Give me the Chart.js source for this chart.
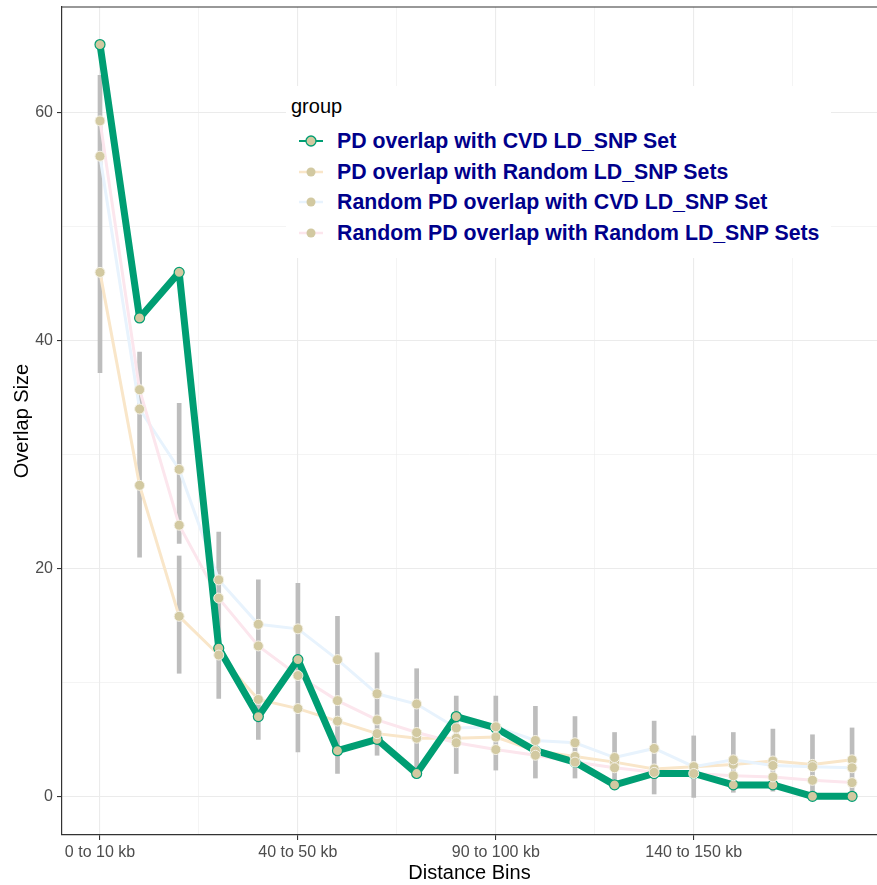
<!DOCTYPE html>
<html>
<head>
<meta charset="utf-8">
<title>Overlap Size by Distance Bins</title>
<script src="https://cdn.jsdelivr.net/npm/chart.js@4.4.0/dist/chart.umd.min.js"></script>
<style>
body { margin: 0; background: #fff; font-family: "Liberation Sans", Arial, sans-serif; }
#wrap { position: relative; width: 877px; height: 885px; }
#legend { position: absolute; left: 286px; top: 86px; width: 545px; height: 172px; background: #fff; }
.leg-title { position: absolute; left: 5px; top: 9px; font-size: 20px; line-height: 23px; color: #000; }
.leg-row { position: absolute; left: 0; width: 540px; height: 24px; line-height: 24px; font-size: 21.3px; font-weight: bold; color: #00008b; white-space: nowrap; }
.leg-row svg { position: absolute; left: 13px; top: 0; }
.leg-row span { position: absolute; left: 51px; top: 0; }
</style>
</head>
<body>
<div id="wrap">
  <canvas id="overlapChart" width="877" height="885"></canvas>
  <div id="legend"></div>
</div>
<script>
// distance bins (only every 5th one is labelled on the axis)
const categories = [
    "0 to 10 kb", "10 to 15 kb", "15 to 20 kb", "20 to 30 kb", "30 to 40 kb",
    "40 to 50 kb", "50 to 60 kb", "60 to 70 kb", "70 to 80 kb", "80 to 90 kb",
    "90 to 100 kb", "100 to 110 kb", "110 to 120 kb", "120 to 130 kb", "130 to 140 kb",
    "140 to 150 kb", "150 to 160 kb", "160 to 170 kb", "170 to 180 kb", "180 to 190 kb"
];

const pdCvd =          [66, 42, 46, 13, 7, 12, 4, 5, 2, 7, 6, 4, 3, 1, 2, 2, 1, 1, 0, 0];
const pdRandom =       [46.0, 27.3, 15.8, 12.4, 8.5, 7.7, 6.6, 5.5, 5.1, 5.1, 5.2, 4.0, 3.5, 3.0, 2.4, 2.6, 2.8, 3.1, 2.8, 3.2];
const randomPdCvd =    [56.2, 34.0, 28.7, 19.0, 15.1, 14.7, 12.0, 9.0, 8.1, 6.0, 6.1, 4.9, 4.7, 3.4, 4.2, 2.6, 3.2, 2.7, 2.6, 2.5];
const randomPdRandom = [59.3, 35.7, 23.8, 17.4, 13.2, 10.6, 8.4, 6.7, 5.6, 4.7, 4.1, 3.6, 3.0, 2.5, 2.1, 2.0, 1.8, 1.7, 1.4, 1.2];

// grey ranges behind the random sets
const errLow =  [37.2, 21.0, 22.2, 8.6, 5.0, 3.9, 2.0, 3.6, 1.8, 2.0, 2.3, 1.6, 1.6, 1.5, 0.2, -0.1, 0.35, 0.45, -0.2, 0.3];
const errHigh = [63.3, 39.0, 34.5, 23.2, 19.0, 18.7, 15.8, 12.6, 11.2, 8.8, 8.8, 7.9, 7.0, 5.6, 6.6, 5.3, 5.6, 5.9, 5.4, 6.0];
const errExtraBin = 2;
const errExtra = [10.8, 21.1];

const yTicks = [0, 20, 40, 60];

const seriesNames = [
    "PD overlap with CVD LD_SNP Set",
    "PD overlap with Random LD_SNP Sets",
    "Random PD overlap with CVD LD_SNP Set",
    "Random PD overlap with Random LD_SNP Sets"
];
const lineColors = ['#009e73', '#f9e6c9', '#e8f3fd', '#fce6ed'];
const pointFill = '#d2c9a1';

function xy(values) {
    return values.map((v, i) => ({ x: i, y: v }));
}

const errBars = errLow.map((lo, i) => ({ x: i, y: [lo, errHigh[i]] }));
errBars.push({ x: errExtraBin, y: errExtra });

const randomSeries = [pdRandom, randomPdCvd, randomPdRandom];

const datasets = [];
datasets.push({
    type: 'bar', data: errBars, backgroundColor: '#bdbdbd',
    barThickness: 4, grouped: false, order: 20
});
randomSeries.forEach((vals, k) => {
    datasets.push({
        type: 'line', data: xy(vals), borderColor: lineColors[k + 1], borderWidth: 3,
        pointRadius: 0, tension: 0, order: 15 - k
    });
});
datasets.push({
    type: 'line', data: xy(pdCvd), borderColor: lineColors[0], borderWidth: 7,
    pointRadius: 0, tension: 0, borderJoinStyle: 'round', order: 10
});
datasets.push({
    type: 'line', data: xy(pdCvd), showLine: false, pointRadius: 5,
    pointBackgroundColor: pointFill, pointBorderColor: lineColors[0], pointBorderWidth: 1.2, order: 5
});
randomSeries.forEach((vals, k) => {
    datasets.push({
        type: 'line', data: xy(vals), showLine: false, pointRadius: 5,
        pointBackgroundColor: pointFill, pointBorderColor: '#f4f1e6', pointBorderWidth: 1, order: 4 - k
    });
});

const panelTop = {
    id: 'panelTop',
    afterDraw(chart) {
        const a = chart.chartArea;
        const ctx = chart.ctx;
        ctx.save();
        ctx.strokeStyle = '#333333';
        ctx.lineWidth = 1.2;
        ctx.beginPath();
        ctx.moveTo(a.left, a.top);
        ctx.lineTo(a.right, a.top);
        ctx.stroke();
        ctx.restore();
    }
};

const tickFont = { family: '"Liberation Sans", Arial, sans-serif', size: 16 };
const titleFont = { family: '"Liberation Sans", Arial, sans-serif', size: 20 };

new Chart(document.getElementById('overlapChart'), {
    type: 'line',
    data: { datasets: datasets },
    options: {
        responsive: false,
        animation: false,
        events: [],
        layout: { autoPadding: false, padding: { top: 7, right: 0, bottom: 0, left: 0 } },
        plugins: { legend: { display: false }, tooltip: { enabled: false } },
        scales: {
            x: {
                type: 'linear', min: -0.96, max: 19.63, offset: false,
                afterFit: s => { s.height = 50; s.paddingLeft = 0; s.paddingRight = 0; },
                border: { color: '#333333', width: 1.2 },
                grid: {
                    offset: false,
                    color: '#ebebeb',
                    lineWidth: c => (c.tick && c.tick.value % 5 === 0 ? 1.1 : 0.55),
                    tickColor: c => (c.tick && c.tick.value % 5 === 0 ? '#333333' : 'rgba(0,0,0,0)'),
                    tickLength: 5, tickWidth: 1.1
                },
                ticks: {
                    stepSize: 2.5, includeBounds: false, autoSkip: false, maxRotation: 0,
                    color: '#4d4d4d', font: tickFont, padding: 3,
                    callback: v => (v % 5 === 0 ? categories[v] : '')
                },
                title: { display: true, text: 'Distance Bins', color: '#000', font: titleFont, padding: { top: 0, bottom: 0 } }
            },
            y: {
                type: 'linear', min: -3.4, max: 69.3,
                afterFit: s => { s.width = 62; s.paddingTop = 0; s.paddingBottom = 0; },
                border: { color: '#333333', width: 1.2 },
                grid: {
                    color: '#ebebeb',
                    lineWidth: c => (c.tick && yTicks.includes(c.tick.value) ? 1.1 : 0.55),
                    tickColor: c => (c.tick && yTicks.includes(c.tick.value) ? '#333333' : 'rgba(0,0,0,0)'),
                    tickLength: 5, tickWidth: 1.1
                },
                ticks: {
                    stepSize: 10, includeBounds: false,
                    color: '#4d4d4d', font: tickFont, padding: 4,
                    callback: v => (yTicks.includes(v) ? String(v) : '')
                },
                title: { display: true, text: 'Overlap Size', color: '#000', font: titleFont, padding: { top: 10, bottom: 0 } }
            }
        }
    },
    plugins: [panelTop]
});

// legend drawn as html over the panel
const legend = document.getElementById('legend');
legend.innerHTML = '<div class="leg-title">group</div>';
const rowTops = [42.7, 73.5, 104.3, 135.1];
seriesNames.forEach((name, k) => {
    const main = k === 0;
    const key = main
        ? `<svg width="24" height="24"><line x1="0" y1="12" x2="24" y2="12" stroke="${lineColors[0]}" stroke-width="2"/><circle cx="12" cy="12" r="5" fill="${pointFill}" stroke="${lineColors[0]}" stroke-width="1.3"/></svg>`
        : `<svg width="24" height="24"><line x1="0" y1="12" x2="24" y2="12" stroke="${lineColors[k]}" stroke-width="2.5"/><circle cx="12" cy="12" r="4.5" fill="${pointFill}"/></svg>`;
    legend.insertAdjacentHTML('beforeend',
        `<div class="leg-row" style="top:${rowTops[k]}px">${key}<span>${name}</span></div>`);
});
</script>
</body>
</html>
